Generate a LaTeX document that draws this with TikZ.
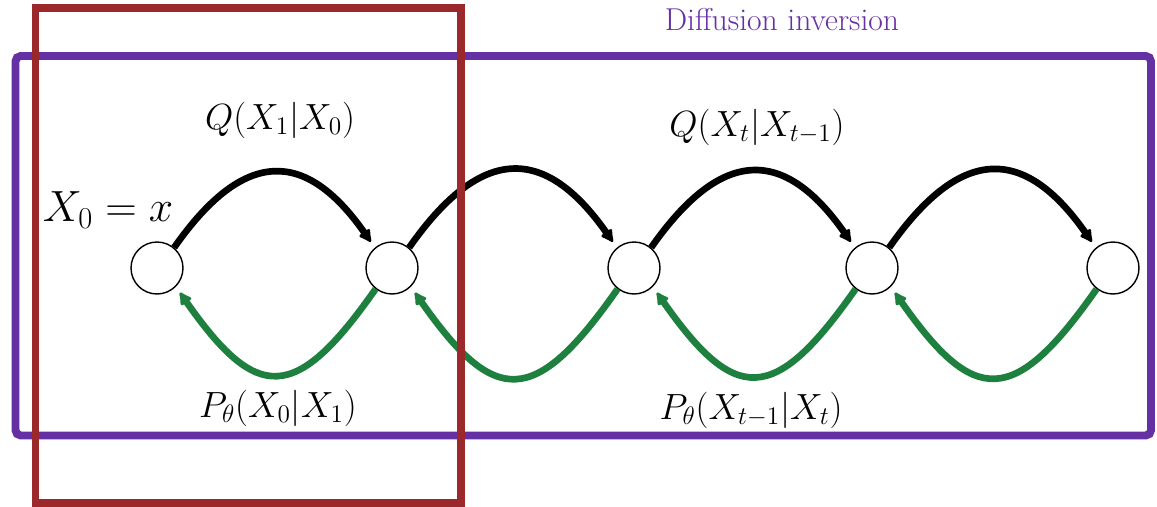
\documentclass[tikz,border=0pt]{standalone}
\usetikzlibrary{arrows.meta}

\definecolor{boxred}{RGB}{155,40,42}
\definecolor{boxpurple}{RGB}{102,48,165}
\definecolor{revgreen}{RGB}{30,128,62}

\begin{document}
\begin{tikzpicture}[x=0.02cm, y=0.02cm,
    state/.style={draw, circle, fill=white, line width=0.8pt, minimum size=1.04cm, inner sep=0pt},
    fwd/.style={line width=3.8pt, -{Latex[length=8.5pt,width=9pt,round]}, shorten >=4pt},
    bwd/.style={fwd, color=revgreen},
    frame/.style={line width=4.5pt},
    lab/.style={font=\fontsize{21}{25}\selectfont}
]
\useasboundingbox (0,0) rectangle (1157,-507);

% States of the chain
\node[state] (s0) at (157,-268) {};
\node[state] (s1) at (392,-268) {};
\node[state] (s2) at (634,-268) {};
\node[state] (s3) at (872,-268) {};
\node[state] (s4) at (1113,-268) {};

% Forward (noising) steps
\draw[fwd] (s0.50) to[out=55, in=125, looseness=1.55] (s1.130);
\draw[fwd] (s1.50) to[out=55, in=125, looseness=1.55] (s2.130);
\draw[fwd] (s2.50) to[out=55, in=125, looseness=1.55] (s3.130);
\draw[fwd] (s3.50) to[out=55, in=125, looseness=1.55] (s4.130);

% Reverse (denoising) steps
\draw[bwd] (s1.232) to[out=-125, in=-55, looseness=1.8] (s0.-45);
\draw[bwd] (s2.232) to[out=-125, in=-55, looseness=1.8] (s1.-45);
\draw[bwd] (s3.232) to[out=-125, in=-55, looseness=1.8] (s2.-45);
\draw[bwd] (s4.232) to[out=-125, in=-55, looseness=1.8] (s3.-45);

% Labels
\node[font=\fontsize{24}{28}\selectfont] (start) at (108,-210) {$X_0 = x$};
\node[lab] (qfirst) at (280,-120) {$Q(X_1|X_0)$};
\node[lab] (qgen) at (757,-127) {$Q(X_t|X_{t-1})$};
\node[lab] (pfirst) at (278,-408) {$P_\theta(X_0|X_1)$};
\node[lab] (pgen) at (751,-410) {$P_\theta(X_{t-1}|X_t)$};
\node[text=boxpurple, font=\fontsize{18}{22}\selectfont] (invlabel) at (782,-20) {Diffusion inversion};

% Frames
\draw[frame, boxpurple, rounded corners=3pt] (15.5,-56) rectangle (1151,-435.5);
\draw[frame, boxred] (35.5,-8) rectangle (461,-503);

\end{tikzpicture}
\end{document}
